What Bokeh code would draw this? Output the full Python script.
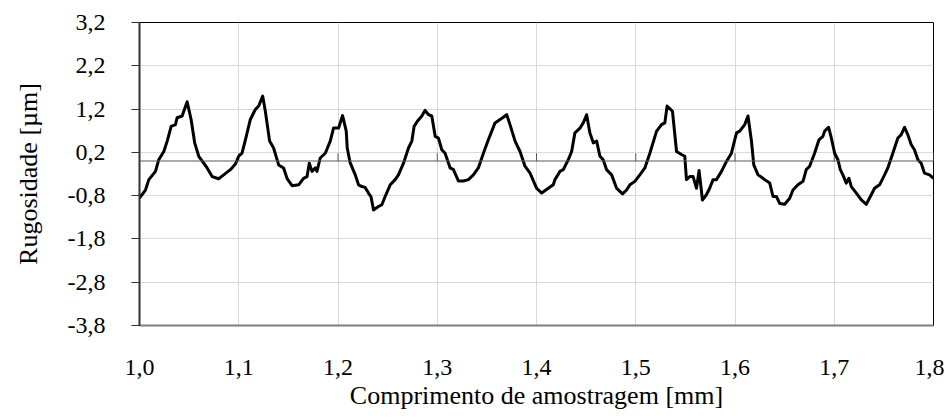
from bokeh.plotting import figure
from bokeh.models import Range1d, FixedTicker, CustomJSTickFormatter, Span, ColumnDataSource
from bokeh.embed import file_html
from bokeh.resources import INLINE

# --- data ---
x_mm = [1.0000, 1.0060, 1.0094, 1.0161, 1.0194, 1.0245, 1.0279, 1.0319, 1.0362, 1.0379,
        1.0430, 1.0446, 1.0480, 1.0520, 1.0556, 1.0597, 1.0647, 1.0681, 1.0732, 1.0798,
        1.0848, 1.0916, 1.0966, 1.0999, 1.1033, 1.1067, 1.1117, 1.1167, 1.1201, 1.1241,
        1.1268, 1.1311, 1.1351, 1.1402, 1.1452, 1.1486, 1.1537, 1.1603, 1.1653, 1.1688,
        1.1711, 1.1738, 1.1771, 1.1788, 1.1821, 1.1872, 1.1922, 1.1955, 1.2006, 1.2046,
        1.2083, 1.2093, 1.2121, 1.2174, 1.2207, 1.2241, 1.2274, 1.2307, 1.2332, 1.2358,
        1.2408, 1.2442, 1.2475, 1.2526, 1.2576, 1.2609, 1.2660, 1.2710, 1.2744, 1.2767,
        1.2800, 1.2845, 1.2878, 1.2911, 1.2945, 1.2979, 1.3012, 1.3046, 1.3079, 1.3130,
        1.3163, 1.3213, 1.3263, 1.3314, 1.3364, 1.3414, 1.3465, 1.3515, 1.3582, 1.3633,
        1.3666, 1.3700, 1.3733, 1.3784, 1.3834, 1.3884, 1.3935, 1.4002, 1.4052, 1.4119,
        1.4169, 1.4186, 1.4236, 1.4270, 1.4320, 1.4354, 1.4387, 1.4438, 1.4471, 1.4505,
        1.4538, 1.4572, 1.4606, 1.4639, 1.4672, 1.4706, 1.4757, 1.4807, 1.4867, 1.4907,
        1.4941, 1.4991, 1.5041, 1.5092, 1.5142, 1.5210, 1.5260, 1.5293, 1.5316, 1.5370,
        1.5411, 1.5461, 1.5494, 1.5511, 1.5545, 1.5578, 1.5612, 1.5638, 1.5672, 1.5712,
        1.5745, 1.5779, 1.5813, 1.5864, 1.5914, 1.5964, 1.6015, 1.6048, 1.6098, 1.6131,
        1.6166, 1.6189, 1.6232, 1.6282, 1.6299, 1.6350, 1.6383, 1.6417, 1.6450, 1.6501,
        1.6551, 1.6584, 1.6634, 1.6685, 1.6718, 1.6752, 1.6802, 1.6846, 1.6886, 1.6903,
        1.6943, 1.6971, 1.7004, 1.7037, 1.7061, 1.7087, 1.7121, 1.7148, 1.7172, 1.7222,
        1.7273, 1.7323, 1.7373, 1.7406, 1.7457, 1.7507, 1.7540, 1.7590, 1.7641, 1.7675,
        1.7708, 1.7741, 1.7775, 1.7808, 1.7843, 1.7876, 1.7909, 1.7960, 1.8000]
rugosidade = [-0.86, -0.67, -0.43, -0.24, 0.03, 0.22, 0.46, 0.80, 0.84, 1.00,
              1.04, 1.15, 1.37, 0.96, 0.42, 0.11, -0.05, -0.16, -0.36, -0.41,
              -0.32, -0.20, -0.07, 0.11, 0.18, 0.49, 0.96, 1.19, 1.27, 1.50,
              1.15, 0.46, 0.30, -0.09, -0.16, -0.40, -0.57, -0.55, -0.40, -0.36,
              -0.05, -0.24, -0.16, -0.24, 0.07, 0.18, 0.46, 0.76, 0.76, 1.05,
              0.69, 0.30, -0.03, -0.32, -0.55, -0.59, -0.61, -0.74, -0.82, -1.13,
              -1.05, -1.01, -0.82, -0.55, -0.43, -0.32, -0.05, 0.30, 0.46, 0.80,
              0.92, 1.04, 1.17, 1.07, 1.04, 0.57, 0.53, 0.26, 0.18, -0.16,
              -0.20, -0.46, -0.46, -0.43, -0.32, -0.16, 0.18, 0.49, 0.88, 0.96,
              1.01, 1.07, 0.84, 0.46, 0.22, -0.12, -0.28, -0.63, -0.74, -0.63,
              -0.55, -0.43, -0.24, -0.20, 0.03, 0.22, 0.65, 0.76, 0.88, 1.07,
              0.65, 0.42, 0.46, 0.11, 0.03, -0.20, -0.32, -0.63, -0.76, -0.67,
              -0.55, -0.47, -0.32, -0.16, 0.18, 0.69, 0.84, 0.88, 1.27, 1.15,
              0.22, 0.15, 0.11, -0.43, -0.36, -0.36, -0.63, -0.22, -0.90, -0.78,
              -0.63, -0.43, -0.43, -0.24, -0.01, 0.18, 0.65, 0.69, 0.84, 1.04,
              0.46, -0.09, -0.32, -0.40, -0.43, -0.51, -0.82, -0.82, -0.98, -1.00,
              -0.86, -0.67, -0.55, -0.47, -0.20, -0.12, 0.18, 0.49, 0.57, 0.69,
              0.78, 0.53, 0.18, 0.03, -0.20, -0.32, -0.51, -0.40, -0.59, -0.74,
              -0.90, -1.00, -0.78, -0.63, -0.55, -0.32, -0.16, 0.18, 0.53, 0.61,
              0.78, 0.61, 0.38, 0.26, 0.03, -0.05, -0.28, -0.32, -0.40]

x_ticks = [1.0, 1.1, 1.2, 1.3, 1.4, 1.5, 1.6, 1.7, 1.8]
y_ticks = [-3.8, -2.8, -1.8, -0.8, 0.2, 1.2, 2.2, 3.2]
x_title = "Comprimento de amostragem [mm]"
y_title = "Rugosidade [µm]"

FONT = "Liberation Serif"

p = figure(width=944, height=416, output_backend="svg", toolbar_location=None,
           x_range=Range1d(1.0, 1.8), y_range=Range1d(-3.8, 3.2),
           min_border_left=139, min_border_right=11, min_border_top=22, min_border_bottom=91)

p.outline_line_color = "black"
p.outline_line_width = 1
p.background_fill_color = "white"
p.border_fill_color = "white"

fmt = CustomJSTickFormatter(code="return tick.toFixed(1).replace('.', ',');")

# x axis
p.xaxis.ticker = FixedTicker(ticks=x_ticks)
p.xaxis.formatter = fmt
p.xaxis.axis_line_color = "#7f7f7f"
p.xaxis.axis_line_width = 2
p.xaxis.major_tick_line_color = None
p.xaxis.minor_tick_line_color = None
p.xaxis.major_label_text_font = FONT
p.xaxis.major_label_text_font_size = "24px"
p.xaxis.major_label_text_color = "black"
p.xaxis.major_label_standoff = 28
p.xaxis.axis_label = x_title
p.xaxis.axis_label_text_font = FONT
p.xaxis.axis_label_text_font_size = "26px"
p.xaxis.axis_label_text_font_style = "normal"
p.xaxis.axis_label_text_color = "black"
p.xaxis.axis_label_standoff = 3

# y axis
p.yaxis.ticker = FixedTicker(ticks=y_ticks)
p.yaxis.formatter = fmt
p.yaxis.axis_line_color = "#333333"
p.yaxis.axis_line_width = 2
p.yaxis.major_tick_line_color = "#333333"
p.yaxis.major_tick_out = 8
p.yaxis.major_tick_in = 0
p.yaxis.minor_tick_line_color = None
p.yaxis.major_label_text_font = FONT
p.yaxis.major_label_text_font_size = "24px"
p.yaxis.major_label_text_color = "black"
p.yaxis.major_label_standoff = 26
p.yaxis.axis_label = y_title
p.yaxis.axis_label_text_font = FONT
p.yaxis.axis_label_text_font_size = "26px"
p.yaxis.axis_label_text_font_style = "normal"
p.yaxis.axis_label_text_color = "black"
p.yaxis.axis_label_standoff = 22

p.xgrid.ticker = FixedTicker(ticks=x_ticks)
p.ygrid.ticker = FixedTicker(ticks=y_ticks)
p.xgrid.grid_line_color = "#d9d9d9"
p.ygrid.grid_line_color = "#d9d9d9"

# zero line (Excel-style crossing axis) with small tick marks
p.add_layout(Span(location=0, dimension="width", line_color="#595959", line_width=1))
tick_len = 0.18
p.segment(x0=x_ticks, x1=x_ticks, y0=[0] * len(x_ticks), y1=[tick_len] * len(x_ticks),
          line_color="#595959", line_width=1)

src = ColumnDataSource(dict(x=x_mm, y=rugosidade))
p.line("x", "y", source=src, line_color="black", line_width=3, line_join="round")

open("out.html", "w").write(file_html(p, INLINE))
